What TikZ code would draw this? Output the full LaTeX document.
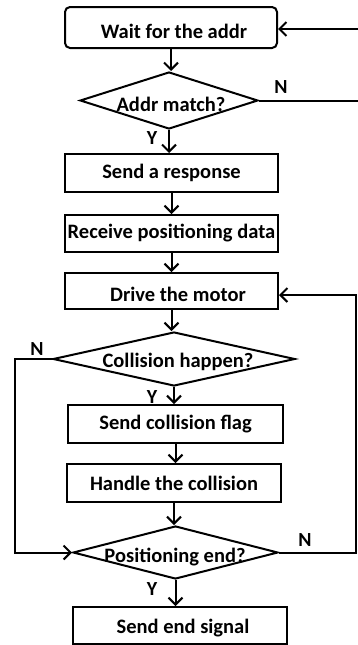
\documentclass[tikz,border=0pt]{standalone}
\usepackage{fontspec}
\setmainfont{Carlito}
\usetikzlibrary{arrows.meta,shapes.geometric,calc}
\begin{document}
\begin{tikzpicture}[x=1pt,y=-1pt,
  every node/.style={font=\bfseries\fontsize{20.5}{22}\selectfont, inner sep=0pt},
  procbox/.style={draw, line width=2pt, rectangle},
  dia/.style={draw, line width=2pt, diamond},
  yn/.style={font=\bfseries\fontsize{20}{22}\selectfont},
  conn/.style={line width=2pt, -{Straight Barb[length=7pt,width=14pt,line width=2pt]}},
  plain/.style={line width=2pt}]
\useasboundingbox (0,0) rectangle (358,645);
% nodes
\node[procbox, rounded corners=5pt, minimum width=212pt, minimum height=41pt] (b1) at (171,27.5) {};
\node (b1t) at (174,31) {Wait for the addr};
\node[dia, minimum width=178pt, minimum height=57pt] (d1) at (169,100.5) {};
\node (d1t) at (171,104) {Addr match?};
\node[procbox, minimum width=213pt, minimum height=38pt] (b2) at (171.5,173) {Send a response};
\node[procbox, minimum width=213pt, minimum height=37pt] (b3) at (171.5,233.5) {Receive positioning data};
\node[procbox, minimum width=213pt, minimum height=36pt] (b4) at (171.5,291) {};
\node (b4t) at (178,294) {Drive the motor};
\node[dia, minimum width=242pt, minimum height=54pt] (d2) at (174,359) {};
\node (d2t) at (178,362) {Collision happen?};
\node[procbox, minimum width=215pt, minimum height=38pt] (b5) at (175.5,424) {Send collision flag};
\node[procbox, minimum width=214pt, minimum height=38pt] (b6) at (174,483) {Handle the collision};
\node[dia, minimum width=205pt, minimum height=53pt] (d3) at (175.5,552.5) {};
\node (d3t) at (175,557) {Positioning end?};
\node[procbox, minimum width=214pt, minimum height=37pt] (b7) at (180,625.5) {};
\node (b7t) at (183,628) {Send end signal};
% labels
\node[yn] (n1) at (281,87) {N};
\node[yn] (y1) at (152,138) {Y};
\node[yn] (n2) at (37,349) {N};
\node[yn] (y2) at (152,397) {Y};
\node[yn] (n3) at (305,540) {N};
\node[yn] (y3) at (152,589) {Y};
% coordinates
\coordinate (r1) at (358,100.5);
\coordinate (r2) at (358,29);
\coordinate (lc1) at (15,359);
\coordinate (lc2) at (15,552.5);
\coordinate (rc1) at (356,552.5);
\coordinate (rc2) at (356,295);
% connectors
\draw[conn] (b1.south) -- (b1.south |- d1.north);
\draw[conn] (d1.south) -- (d1.south |- b2.north);
\draw[conn] (b2.south) -- (b2.south |- b3.north);
\draw[conn] (b3.south) -- (b3.south |- b4.north);
\draw[conn] (b4.south) -- (b4.south |- d2.north);
\draw[conn] (d2.south) -- (d2.south |- b5.north);
\draw[conn] (b5.south) -- (b5.south |- b6.north);
\draw[conn] (b6.south) -- (b6.south |- d3.north);
\draw[conn] (d3.south) -- (d3.south |- b7.north);
\draw[plain] (d1.east) -- (r1);
\draw[conn] (r2) -- (b1.east |- r2);
\draw[conn] (d2.west) -- (lc1) -- (lc2) -- (d3.west);
\draw[conn] (d3.east) -- (rc1) -- (rc2) -- (b4.east |- rc2);
\end{tikzpicture}
\end{document}
